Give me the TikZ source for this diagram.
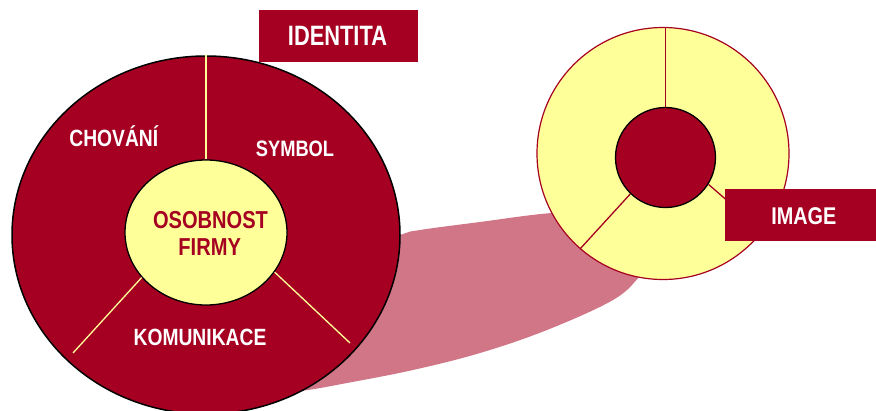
\documentclass[tikz,border=0pt]{standalone}
\usepackage{fontspec}
\setmainfont{Liberation Sans}
\newfontfamily\lbl{Liberation Sans}[FakeStretch=0.82]
\newfontfamily\lblw{Liberation Sans}[FakeStretch=0.78]
\usetikzlibrary{shapes.geometric}
\definecolor{dred}{RGB}{165,0,33}
\definecolor{lyel}{RGB}{255,255,153}
\definecolor{shad}{RGB}{208,118,135}
\begin{document}
\begin{tikzpicture}[x=1pt,y=-1pt,
  bigell/.style={ellipse, draw=black, line width=1.5pt, fill=dred, minimum width=388pt, minimum height=358pt, inner sep=0pt},
  innell/.style={ellipse, draw=black, line width=1.3pt, fill=lyel, minimum width=162pt, minimum height=145pt, inner sep=0pt},
  rcirc/.style={circle, draw=dred, line width=1.2pt, fill=lyel, minimum size=252pt, inner sep=0pt},
  rin/.style={circle, draw=black, line width=1.3pt, fill=dred, minimum size=100pt, inner sep=0pt},
  yline/.style={draw=lyel, line width=1.3pt},
  rline/.style={draw=dred, line width=1.3pt},
  tagbox/.style={fill=dred, inner sep=0pt},
  lbltext/.style={text=white, inner sep=0pt, anchor=base, font=\lbl\bfseries\fontsize{23.5}{28}\selectfont},
  coretext/.style={text=dred, inner sep=0pt, anchor=base, font=\lbl\bfseries\fontsize{24.5}{28}\selectfont}
]
\useasboundingbox (0,0) rectangle (876,410);
% shadow
\fill[shad] plot[smooth cycle, tension=0.6] coordinates {
  (300,391) (347,383) (413,370) (480,353) (547,330) (613,300) (640,276)
  (660,250) (655,225) (615,212) (552,213) (480,222) (420,230) (400,235)
  (330,260) (260,310) (240,370) (262,392)};
% identity circle
\node[bigell] (big) at (206,235) {};
\node[innell] (inner) at (206,232.5) {};
\coordinate (ll) at (73,353);
\coordinate (lr) at (350,343);
\draw[yline] (inner.north) -- (big.north);
\draw[yline] (inner.215) -- (ll);
\draw[yline] (inner.330) -- (lr);
\node[lbltext] (chov) at (113.8,146.7) {CHOVÁNÍ};
\node[lbltext, font=\lbl\bfseries\fontsize{22.3}{26}\selectfont] (sym) at (295,156) {SYMBOL};
\node[lbltext] (kom) at (200,345) {KOMUNIKACE};
\node[coretext] (osob) at (210.5,228.3) {OSOBNOST};
\node[coretext] (firmy) at (209.7,255) {FIRMY};
\node[tagbox, minimum width=158.4pt, minimum height=51.7pt] (idbox) at (338.5,35.85) {};
\node[text=white, inner sep=0pt, anchor=base, font=\lblw\bfseries\fontsize{28}{32}\selectfont] (idtext) at (337.5,45) {IDENTITA};
% image circle
\node[rcirc] (rc) at (663,153.5) {};
\node[rin] (ri) at (665.5,157.5) {};
\draw[rline] (ri.north) -- (ri.north |- rc.north);
\draw[rline] (ri.226) -- (rc.229);
\draw[rline] (ri.-32) -- (rc.-38);
\node[tagbox, minimum width=157pt, minimum height=51.7pt] (imbox) at (803.5,214.85) {};
\node[lbltext, font=\lbl\bfseries\fontsize{24.2}{28}\selectfont] (imtext) at (803.8,224) {IMAGE};
\end{tikzpicture}
\end{document}
